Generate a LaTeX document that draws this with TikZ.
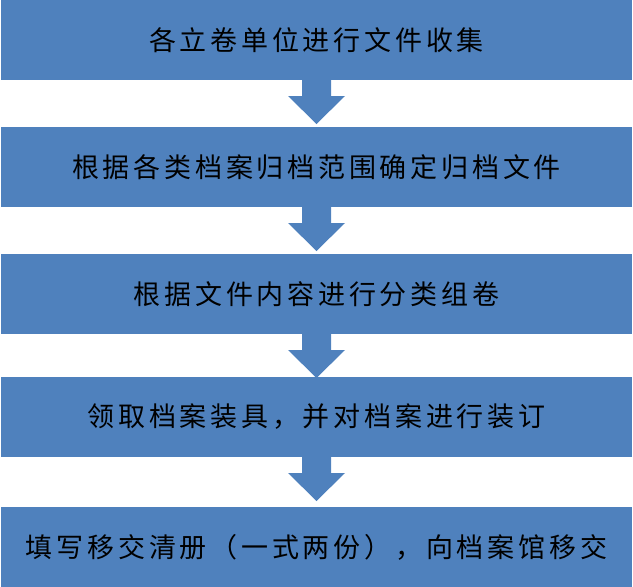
\documentclass[tikz,border=0pt]{standalone}
\usepackage{fontspec}
\usepackage{tikz}
\usetikzlibrary{positioning}
\newfontfamily\cjk[LetterSpace=14]{Noto Sans CJK SC}
\definecolor{stageblue}{HTML}{4F81BD}
\tikzset{
	stage/.style={fill=stageblue,minimum width=631pt,minimum height=80pt,inner sep=0pt,outer sep=0pt,font=\cjk\fontsize{27}{31}\selectfont}
}

\begin{document}
\begin{tikzpicture}[x=1pt,y=-1pt]
	\useasboundingbox (0,0) rectangle (633,587);
	\foreach \y/\t [count=\i] in {40/{各立卷单位进行文件收集},167/{根据各类档案归档范围确定归档文件},294/{根据文件内容进行分类组卷},417/{领取档案装具，并对档案进行装订},547/{填写移交清册（一式两份），向档案馆移交}}
	{ \node[stage] (box\i) at (316.5,\y) {\t};
	}
	\foreach \i in {1,...,4}
	{ \fill[stageblue] (box\i.south) ++(-14.5,0) -- ++(0,16) -- ++(-14,0) -- ++(28.5,28) -- ++(28.5,-28) -- ++(-14,0) -- ++(0,-16) -- cycle;
	}
\end{tikzpicture}
\end{document}
